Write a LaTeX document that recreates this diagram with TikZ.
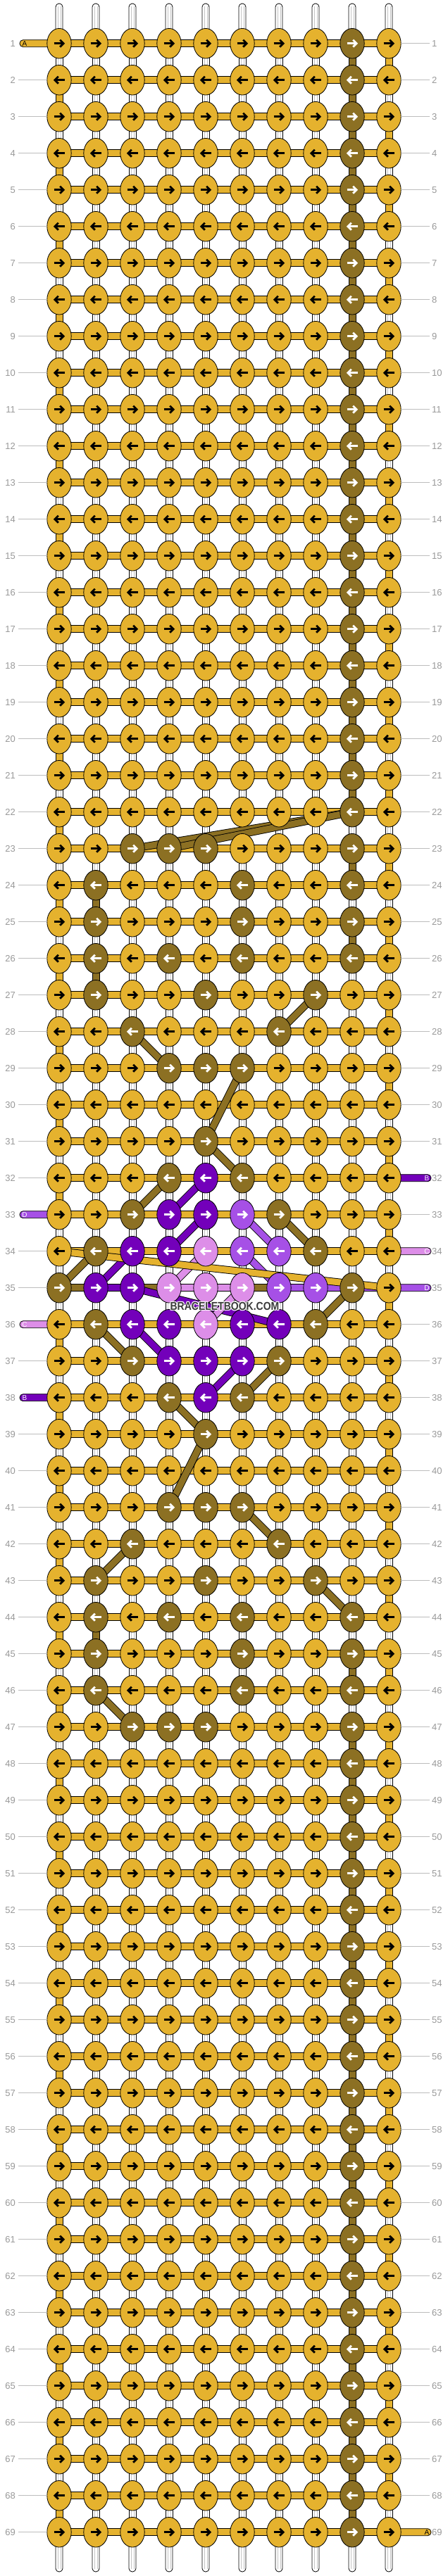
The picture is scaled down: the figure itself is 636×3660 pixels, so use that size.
\documentclass[tikz,border=0pt]{standalone}
\usepackage{fontspec}
\setmainfont{Liberation Sans}
\usetikzlibrary{shapes.geometric}
\definecolor{colg}{HTML}{E5B22E}
\definecolor{colb}{HTML}{8C7023}
\definecolor{colP}{HTML}{7300BA}
\definecolor{colM}{HTML}{A650E6}
\definecolor{colL}{HTML}{DD8EE8}
\colorlet{arrg}{black}
\colorlet{arrb}{white}
\colorlet{arrP}{white}
\colorlet{arrM}{white}
\colorlet{arrL}{white}
\definecolor{lblgray}{HTML}{999999}
\definecolor{linegray}{HTML}{BDBDBD}
\definecolor{inngray}{HTML}{C4C4C4}
\definecolor{wmgray}{HTML}{3A3A3A}

\def\rowdef{g,g,g,g,g,g,g,g,b,g}
\expandafter\def\csname krow23\endcsname{g,g,b,b,b,g,g,g,b,g}
\expandafter\def\csname krow24\endcsname{g,b,g,g,g,b,g,g,b,g}
\expandafter\def\csname krow25\endcsname{g,b,g,g,g,b,g,g,b,g}
\expandafter\def\csname krow26\endcsname{g,b,g,b,g,b,g,g,b,g}
\expandafter\def\csname krow27\endcsname{g,b,g,g,b,g,g,b,g,g}
\expandafter\def\csname krow28\endcsname{g,g,b,g,g,g,b,g,g,g}
\expandafter\def\csname krow29\endcsname{g,g,g,b,b,b,g,g,g,g}
\expandafter\def\csname krow30\endcsname{g,g,g,g,g,g,g,g,g,g}
\expandafter\def\csname krow31\endcsname{g,g,g,g,b,g,g,g,g,g}
\expandafter\def\csname krow32\endcsname{g,g,g,b,P,b,g,g,g,g}
\expandafter\def\csname krow33\endcsname{g,g,b,P,P,M,b,g,g,g}
\expandafter\def\csname krow34\endcsname{g,b,P,P,L,M,M,b,g,g}
\expandafter\def\csname krow35\endcsname{b,P,P,L,L,L,M,M,b,g}
\expandafter\def\csname krow36\endcsname{g,b,P,P,L,P,P,b,g,g}
\expandafter\def\csname krow37\endcsname{g,g,b,P,P,P,b,g,g,g}
\expandafter\def\csname krow38\endcsname{g,g,g,b,P,b,g,g,g,g}
\expandafter\def\csname krow39\endcsname{g,g,g,g,b,g,g,g,g,g}
\expandafter\def\csname krow40\endcsname{g,g,g,g,g,g,g,g,g,g}
\expandafter\def\csname krow41\endcsname{g,g,g,b,b,b,g,g,g,g}
\expandafter\def\csname krow42\endcsname{g,g,b,g,g,g,b,g,g,g}
\expandafter\def\csname krow43\endcsname{g,b,g,g,b,g,g,b,g,g}
\expandafter\def\csname krow44\endcsname{g,b,g,b,g,b,g,g,b,g}
\expandafter\def\csname krow45\endcsname{g,b,g,g,g,b,g,g,b,g}
\expandafter\def\csname krow46\endcsname{g,b,g,g,g,b,g,g,b,g}
\expandafter\def\csname krow47\endcsname{g,g,b,b,b,g,g,g,b,g}

\newcommand\cvseg[3]{%
  \pgfmathsetmacro\xx{32+52*#2}%
  \pgfmathsetmacro\yy{9.7+52*#1}%
  \draw[seg, fill=#3] (\xx-5,\yy) rectangle (\xx+5,\yy+52);}

\tikzset{
  knot/.style={ellipse, draw, line width=0.8pt, minimum width=34.4pt, minimum height=42.6pt, inner sep=0pt},
  seg/.style={draw, line width=0.8pt},
  bandout/.style={line width=10.8pt, black},
  bandin/.style={line width=9pt},
  lbl/.style={text=lblgray, font=\fontsize{13}{13}\selectfont, inner sep=0pt},
  glin/.style={linegray, line width=0.9pt},
  arr/.style={line width=2.8pt, line join=miter, line cap=butt},
  stubtxt/.style={font=\fontsize{10}{10}\selectfont, inner sep=0pt},
  wm/.style={font=\bfseries\fontsize{14}{14}\selectfont, inner sep=0pt},
}

\begin{document}
\begin{tikzpicture}[x=1pt,y=-1pt]
\useasboundingbox (0,0) rectangle (636,3660);
\fill[white] (0,0) rectangle (636,3660);

% knot positions
\foreach \r in {1,...,69}{\foreach \c in {1,...,10}{\coordinate (k-\r-\c) at ({32+52*\c},{9.7+52*\r});}}

% top and bottom white string ends
\foreach \c in {1,...,10}{
  \pgfmathsetmacro\xx{32+52*\c}
  \draw[seg, fill=white, rounded corners=4.8pt] (\xx-5,5) rectangle (\xx+5,62);
  \draw[seg, fill=white, rounded corners=4.8pt] (\xx-5,3597) rectangle (\xx+5,3654);
  \draw[inngray, line width=0.5pt] (\xx-1.8,9)--(\xx-1.8,62) (\xx+1.8,9)--(\xx+1.8,62)
     (\xx-1.8,3597)--(\xx-1.8,3650) (\xx+1.8,3597)--(\xx+1.8,3650);
}

% vertical white segments
\foreach \r in {1,...,68}{
  \pgfmathsetmacro\yy{9.7+52*\r}
  \foreach \c in {1,...,10}{
    \pgfmathsetmacro\xx{32+52*\c}
    \draw[seg, fill=white] (\xx-5,\yy) rectangle (\xx+5,\yy+52);
    \draw[inngray, line width=0.5pt] (\xx-1.8,\yy)--(\xx-1.8,\yy+52) (\xx+1.8,\yy)--(\xx+1.8,\yy+52);
  }
}

% coloured vertical segments
\foreach \r in {1,...,68}{
  \ifnum\r=34 \else
    \ifodd\r\relax \cvseg{\r}{10}{colg}\else \cvseg{\r}{1}{colg}\fi
  \fi
}
\foreach \r in {1,...,21}{\cvseg{\r}{9}{colb}}
\foreach \r in {23,25,45}{\cvseg{\r}{9}{colb}}
\foreach \r in {47,...,68}{\cvseg{\r}{9}{colb}}
\foreach \r in {24,26,44}{\cvseg{\r}{2}{colb}}

% horizontal threads
\foreach \r in {1,...,69}{
  \pgfmathsetmacro\yy{9.7+52*\r}
  \draw[seg, fill=colg] (84,\yy-5) rectangle (552,\yy+5);
}
\foreach \c/\col in {1/colb,2/colP,3/colb,4/colL,5/colL,6/colb,7/colM,8/colM,9/colM}{
  \pgfmathsetmacro\xa{32+52*\c}
  \draw[seg, fill=\col] (\xa,1824.7) rectangle (\xa+52,1834.7);
}

% side thread ends
\foreach \r/\col/\lt/\tc in {1/colg/A/black,33/colM/D/white,36/colL/C/white,38/colP/B/white}{
  \pgfmathsetmacro\yy{9.7+52*\r}
  \draw[seg, fill=\col, rounded corners=4.8pt] (28,\yy-5) rectangle (86,\yy+5);
  \node[stubtxt, text=\tc] (sl-\r) at (35,\yy) {\lt};
}
\foreach \r/\col/\lt/\tc in {32/colP/B/white,34/colL/C/white,35/colM/D/white,69/colg/A/black}{
  \pgfmathsetmacro\yy{9.7+52*\r}
  \draw[seg, fill=\col, rounded corners=4.8pt] (550,\yy-5) rectangle (612,\yy+5);
  \node[stubtxt, text=\tc] (sr-\r) at (606,\yy) {\lt};
}

% carried threads (diagonals)
\foreach \a/\b/\col in {22-9/23-3/colb,22-9/23-4/colb,27-8/28-7/colb,28-3/29-4/colb,
   29-6/31-5/colb,31-5/32-6/colb,32-4/33-3/colb,33-7/34-8/colb,34-2/35-1/colb,
   35-9/36-8/colb,36-2/37-3/colb,37-7/38-6/colb,38-4/39-5/colb,39-5/41-4/colb,
   41-6/42-7/colb,42-3/43-2/colb,43-8/44-9/colb,46-2/47-3/colb,
   32-5/33-4/colP,33-5/34-4/colP,34-3/35-2/colP,35-3/36-7/colP,36-3/37-4/colP,37-6/38-5/colP,
   34-5/35-4/colL,35-6/36-5/colL,33-6/34-7/colM,34-6/35-7/colM,34-1/35-10/colg}{
  \draw[bandout] (k-\a) -- (k-\b);
  \draw[bandin, color=\col] (k-\a) -- (k-\b);
}

% knots
\foreach \r in {1,...,69}{
  \ifcsname krow\r\endcsname
    \expandafter\let\expandafter\lst\csname krow\r\endcsname
  \else
    \let\lst\rowdef
  \fi
  \ifodd\r\relax \def\dir{1}\else \def\dir{-1}\fi
  \foreach \k [count=\c] in \lst {
    \node[knot, fill=col\k] (n-\r-\c) at (k-\r-\c) {};
    \begin{scope}[shift={(k-\r-\c)}, xscale=\dir]
      \draw[arr, color=arr\k] (-7.5,0) -- (6,0);
      \draw[arr, color=arr\k] (1.2,-5) -- (6.2,0) -- (1.2,5);
    \end{scope}
  }
}

% row numbers
\foreach \r in {1,...,69}{
  \pgfmathsetmacro\yy{9.7+52*\r}
  \node[lbl, anchor=east] (la-\r) at (22,\yy) {\r};
  \node[lbl, anchor=west] (lb-\r) at (613,\yy) {\r};
  \ifnum\r=1 \else\ifnum\r=33 \else\ifnum\r=36 \else\ifnum\r=38 \else
    \draw[glin] (26,\yy) -- (67,\yy);
  \fi\fi\fi\fi
  \ifnum\r=32 \else\ifnum\r=34 \else\ifnum\r=35 \else\ifnum\r=69 \else
    \draw[glin] (569,\yy) -- (610,\yy);
  \fi\fi\fi\fi
}

% watermark
\foreach \dx/\dy in {-1/0,1/0,0/-1,0/1,-0.8/-0.8,0.8/0.8,-0.8/0.8,0.8/-0.8}{
  \node[wm, text=white] at (319+\dx,1856+\dy) {\scalebox{1}[1.15]{BRACELETBOOK.COM}};
}
\node[wm, text=wmgray] (wm) at (319,1856) {\scalebox{1}[1.15]{BRACELETBOOK.COM}};
\end{tikzpicture}
\end{document}
